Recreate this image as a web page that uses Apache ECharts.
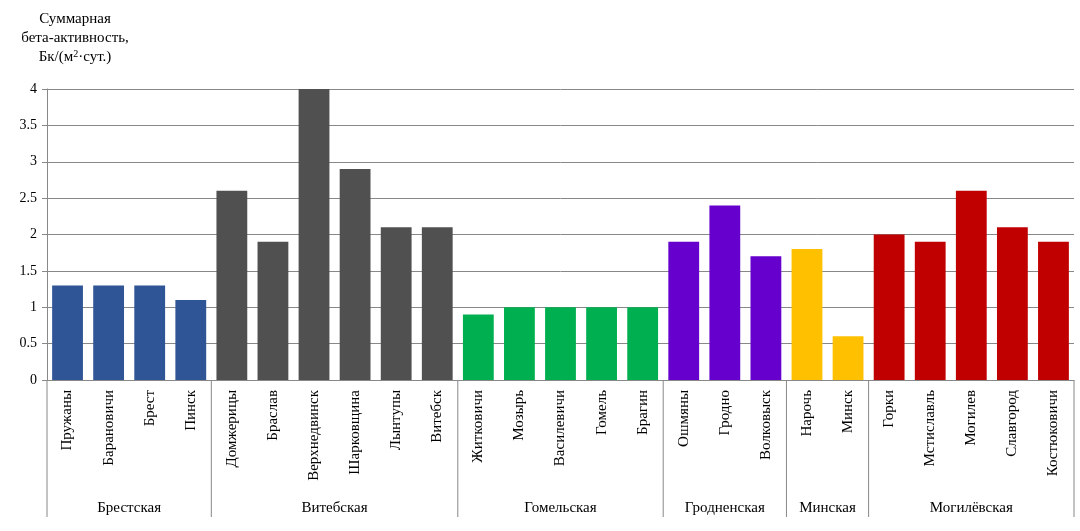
<!DOCTYPE html>
<html><head><meta charset="utf-8">
<script src="https://cdn.jsdelivr.net/npm/echarts@6/dist/echarts.min.js"></script>
<style>html,body{margin:0;background:#fff}#c{width:1080px;height:531px}</style>
</head><body><div id="c"></div>
<script>
var cities = ['Пружаны','Барановичи','Брест','Пинск','Домжерицы','Браслав','Верхнедвинск','Шарковщина','Лынтупы','Витебск','Житковичи','Мозырь','Василевичи','Гомель','Брагин','Ошмяны','Гродно','Волковыск','Нарочь','Минск','Горки','Мстиславль','Могилев','Славгород','Костюковичи'];
var values = [1.3,1.3,1.3,1.1,2.6,1.9,4.0,2.9,2.1,2.1,0.9,1.0,1.0,1.0,1.0,1.9,2.4,1.7,1.8,0.6,2.0,1.9,2.6,2.1,1.9];
var regions = ['Брестская','Витебская','Гомельская','Гродненская','Минская','Могилёвская'];
var regionSizes = [4,6,5,3,2,5];
var regionColors = ['#2F5597','#505050','#00B050','#6600CC','#FFC000','#C00000'];

var barData = [], groupData = [], k = 0;
regionSizes.forEach(function (n, g) {
  groupData.push([k, k + n - 1, g]);
  for (var i = 0; i < n; i++) {
    barData.push({ value: values[k + i], itemStyle: { color: regionColors[g] } });
  }
  k += n;
});

var font = '"Liberation Serif", "DejaVu Serif", serif';
var chart = echarts.init(document.getElementById('c'));
chart.setOption({
  animation: false,
  title: {
    text: 'Суммарная\nбета-активность,\nБк/(м{sup|2}·сут.)',
    left: 70, top: 5, textAlign: 'center',
    textStyle: { fontFamily: font, fontSize: 15, fontWeight: 'normal', color: '#000', lineHeight: 19, align: 'center',
      rich: { sup: { fontFamily: font, fontSize: 10, padding: [0, 0, 7, 0] } } }
  },
  grid: { left: 47, right: 6, top: 89, bottom: 151 },
  xAxis: {
    type: 'category', data: cities,
    axisLine: { lineStyle: { color: '#888' } },
    axisTick: { interval: 0, length: 108, lineStyle: { color: '#888' } },
    axisLabel: { interval: 0, rotate: 90, fontFamily: font, fontSize: 15, color: '#000', margin: 10 }
  },
  yAxis: {
    type: 'value', min: 0, max: 4, interval: 0.5,
    axisLine: { show: true, lineStyle: { color: '#888' } },
    axisTick: { show: true, length: 5, lineStyle: { color: '#888' } },
    splitLine: { lineStyle: { color: '#888' } },
    axisLabel: { fontFamily: font, fontSize: 14, color: '#000', margin: 10 }
  },
  series: [
    { type: 'bar', data: barData, barCategoryGap: '25%' },
    {
      type: 'custom', data: groupData, clip: false, silent: true,
      encode: { x: 0, y: -1 },
      renderItem: function (params, api) {
        var a = api.coord([api.value(0), 0]);
        var b = api.coord([api.value(1), 0]);
        var half = api.size([1, 0])[0] / 2;
        var x0 = a[0] - half, x1 = b[0] + half, y = a[1];
        var children = [
          { type: 'line', shape: { x1: x0, y1: y, x2: x0, y2: y + 137 }, style: { stroke: '#888', lineWidth: 1 } },
          { type: 'text', x: (a[0] + b[0]) / 2, y: y + 128,
            style: { text: regions[api.value(2)], font: '15px ' + font, fill: '#000', align: 'center', verticalAlign: 'middle' } }
        ];
        if (params.dataIndex === groupData.length - 1) {
          children.push({ type: 'line', shape: { x1: x1, y1: y, x2: x1, y2: y + 137 }, style: { stroke: '#888', lineWidth: 1 } });
        }
        return { type: 'group', children: children };
      }
    }
  ]
});
</script></body></html>
